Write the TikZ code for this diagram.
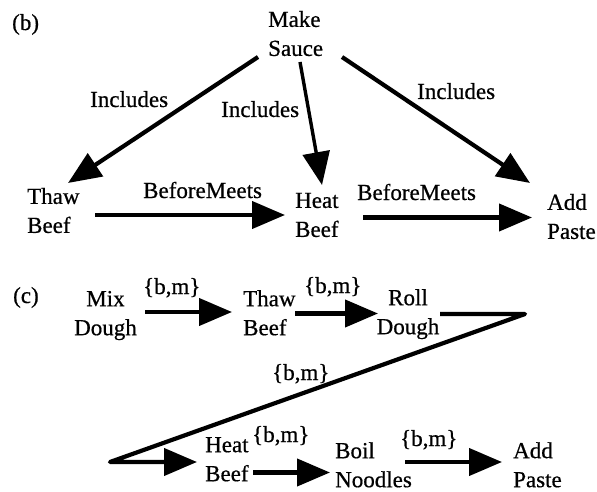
\documentclass[tikz,border=0pt]{standalone}
\usepackage{fontspec}
\setmainfont{Liberation Serif}[FakeBold=0.6]
\usetikzlibrary{arrows.meta}
\newcommand\stt{\rule[-9pt]{0pt}{29pt}}
\newcommand\stb{\rule[-2pt]{0pt}{22pt}}
\begin{document}
\begin{tikzpicture}[x=1pt,y=1pt,
  txt/.style={font=\fontsize{23}{29}\selectfont, inner sep=0pt},
  lbl/.style={txt, anchor=base west},
  act/.style={txt, anchor=north west, align=left},
  actc/.style={txt, anchor=north, align=center},
  arr/.style={line width=4.2pt, -{Triangle[length=33pt,width=27pt]}},
  thin arr/.style={arr, line width=3.4pt}]
\useasboundingbox (0,0) rectangle (597,491);
% ---------- (b) ----------
\node[lbl] (lb) at (12,461) {(b)};
\node[act] (ms) at (268,484.3) {\stt Make\\\stt Sauce};
\node[act] (tb) at (27,307.3) {\stt Thaw\\\stt Beef};
\node[act] (hb) at (295,303.3) {\stt Heat\\\stt Beef};
\node[act] (ap) at (547,301.3) {\stt Add\\\stt Paste};
\node[lbl] (i1) at (90,384) {Includes};
\node[lbl] (i2) at (221,374) {Includes};
\node[lbl] (i3) at (417,392) {Includes};
\node[lbl] (bm1) at (143,293) {BeforeMeets};
\node[lbl] (bm2) at (357,291) {BeforeMeets};
\draw[arr] ([shift={(-10,-50.3)}]ms.north west) -- ([shift={(41,0.7)}]tb.north west);
\draw[thin arr] ([shift={(32,-55.3)}]ms.north west) -- ([shift={(27,2.7)}]hb.north west);
\draw[arr] ([shift={(74,-50.3)}]ms.north west) -- ([shift={(-17,6.7)}]ap.north west);
\draw[arr] ([shift={(68,-31.3)}]tb.north west) -- ([shift={(-10,-27.3)}]hb.north west);
\draw[arr] ([shift={(68,-29.8)}]hb.north west) -- ([shift={(-15,-27.8)}]ap.north west);
% ---------- (c) ----------
\node[lbl] (lc) at (13,188) {(c)};
\node[actc] (md) at (105.5,205) {\stt Mix\\\stt Dough};
\node[act] (tb2) at (243,205) {\stt Thaw\\\stt Beef};
\node[actc] (rd) at (408,206) {\stt Roll\\\stt Dough};
\node[act] (hb2) at (205,59) {\stt Heat\\\stb Beef};
\node[act] (bn) at (335,53) {\stt Boil\\\stb Noodles};
\node[act] (ap2) at (513,53) {\stt Add\\\stb Paste};
\node[lbl] (e1) at (143,197) {\{b,m\}};
\node[lbl] (e2) at (304,198) {\{b,m\}};
\node[lbl] (e3) at (272,111) {\{b,m\}};
\node[lbl] (e4) at (252,49) {\{b,m\}};
\node[lbl] (e5) at (400,45) {\{b,m\}};
\coordinate (z1) at (525,177);
\coordinate (z2) at (110,29);
\draw[arr] ([shift={(39.5,-26)}]md.north) -- ([shift={(-11,-26)}]tb2.north west);
\draw[arr] ([shift={(52,-27.5)}]tb2.north west) -- ([shift={(-30,-28.5)}]rd.north);
\draw[arr, line join=round] ([shift={(32,-29)}]rd.north) -- (z1) -- (z2) -- ([shift={(-8,-30)}]hb2.north west);
\draw[arr] ([shift={(48,-40.5)}]hb2.north west) -- ([shift={(-5,-34.5)}]bn.north west);
\draw[arr] ([shift={(70,-24)}]bn.north west) -- ([shift={(-11,-24)}]ap2.north west);
\end{tikzpicture}
\end{document}
